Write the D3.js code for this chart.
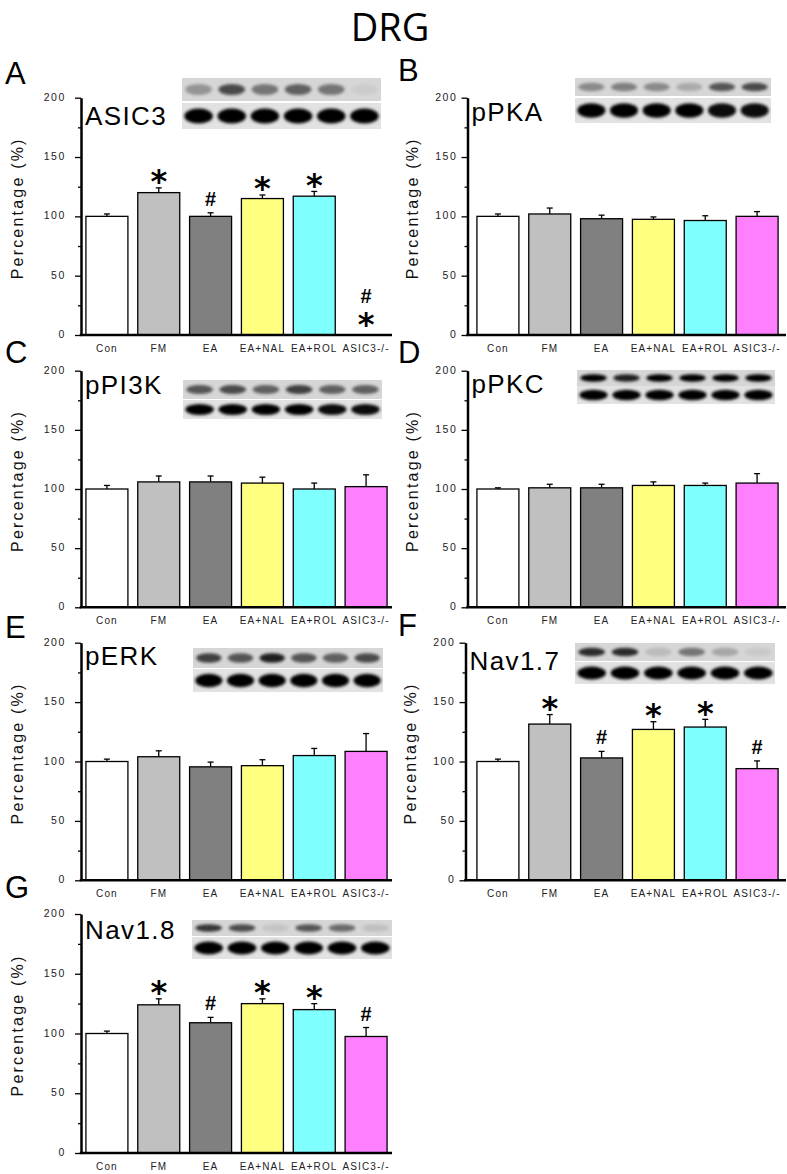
<!DOCTYPE html>
<html><head><meta charset="utf-8">
<script src="https://cdn.jsdelivr.net/npm/d3@7"></script>
<style>body{margin:0;background:#fff}svg{display:block}</style></head>
<body><svg id="c" width="787" height="1174"></svg>
<script>
// ---------- data ----------
const categories = ["Con", "FM", "EA", "EA+NAL", "EA+ROL", "ASIC3-/-"];
const yTicks = [0, 50, 100, 150, 200];
const yMinorTicks = [25, 75, 125, 175];
const proteins = ["ASIC3", "pPKA", "pPI3K", "pPKC", "pERK", "Nav1.7", "Nav1.8"];
const panelLetters = ["A", "B", "C", "D", "E", "F", "G"];

const meanASIC3 = [100, 120, 100, 115, 117, 0];
const errASIC3  = [2, 4, 3, 3, 4, 0];
const sigASIC3  = ["", "*", "#", "*", "*", "#*"];

const meanPKA = [100, 102, 98, 97.5, 96.5, 100];
const errPKA  = [2, 5, 3, 2, 4, 4];
const sigPKA  = ["", "", "", "", "", ""];

const meanPI3K = [100, 106, 106, 105, 100, 102];
const errPI3K  = [3, 5, 5, 5, 5, 10];
const sigPI3K  = ["", "", "", "", "", ""];

const meanPKC = [100, 101, 101, 103, 103, 105];
const errPKC  = [1, 3, 3, 3, 2, 8];
const sigPKC  = ["", "", "", "", "", ""];

const meanERK = [100, 104, 95.5, 96.5, 105, 108.5];
const errERK  = [2, 5, 4, 5, 6, 15];
const sigERK  = ["", "", "", "", "", ""];

const meanNav17 = [100, 131.5, 103, 127, 129, 94];
const errNav17  = [2, 8, 5.5, 6.5, 6.5, 6.5];
const sigNav17  = ["", "*", "#", "*", "*", "#"];

const meanNav18 = [100, 124, 109, 125, 120, 97.5];
const errNav18  = [2, 5, 4.5, 4, 5, 7.5];
const sigNav18  = ["", "*", "#", "*", "*", "#"];

// western blot band intensities (target band, loading control) per lane
const blotTopASIC3 = [0.3, 0.65, 0.45, 0.55, 0.45, 0.04];
const blotBotASIC3 = [1, 1, 1, 1, 1, 1];
const blotTopPKA = [0.35, 0.4, 0.35, 0.2, 0.6, 0.65];
const blotBotPKA = [1, 1, 1, 1, 0.95, 0.95];
const blotTopPI3K = [0.6, 0.65, 0.55, 0.7, 0.55, 0.55];
const blotBotPI3K = [1, 1, 1, 1, 0.95, 0.95];
const blotTopPKC = [1, 0.85, 1, 1, 1, 1];
const blotBotPKC = [1, 1, 1, 1, 1, 1];
const blotTopERK = [0.7, 0.6, 0.85, 0.6, 0.55, 0.65];
const blotBotERK = [1, 1, 1, 1, 1, 1];
const blotTopNav17 = [0.8, 0.8, 0.12, 0.45, 0.22, 0.06];
const blotBotNav17 = [1, 1, 1, 1, 1, 1];
const blotTopNav18 = [0.75, 0.65, 0.08, 0.6, 0.5, 0.1];
const blotBotNav18 = [1, 1, 1, 1, 1, 1];

// ---------- layout ----------
const barColors = ["#ffffff", "#c0c0c0", "#808080", "#ffff80", "#80ffff", "#ff80ff"];
const rows = [[97.7, 335], [370.7, 607.3], [642.7, 880.3], [914, 1153]];
const cols = [
  {axisX: 81, xEnd: 392, band: [81, 392], tickPad: 9},
  {axisX: 467.5, xEnd: 786, band: [472, 783], tickPad: 4}
];
const panels = [
  {mean: meanASIC3, err: errASIC3, sig: sigASIC3, top: blotTopASIC3, bot: blotBotASIC3, col: 0, row: 0,
   letter: [5, 84], blot: {x: 182, w: 199, t: [78, 23], b: [103, 26]}, nameDy: 27},
  {mean: meanPKA, err: errPKA, sig: sigPKA, top: blotTopPKA, bot: blotBotPKA, col: 1, row: 0,
   letter: [398, 81], blot: {x: 575, w: 196, t: [78, 18], b: [98, 25]}, nameDy: 23},
  {mean: meanPI3K, err: errPI3K, sig: sigPI3K, top: blotTopPI3K, bot: blotBotPI3K, col: 0, row: 1,
   letter: [5, 363], blot: {x: 183, w: 199, t: [380, 19], b: [400, 19]}, nameDy: 23},
  {mean: meanPKC, err: errPKC, sig: sigPKC, top: blotTopPKC, bot: blotBotPKC, col: 1, row: 1,
   letter: [398, 363], blot: {x: 577, w: 198, t: [370, 16], b: [386, 18]}, nameDy: 22},
  {mean: meanERK, err: errERK, sig: sigERK, top: blotTopERK, bot: blotBotERK, col: 0, row: 2,
   letter: [5, 638], blot: {x: 193, w: 190, t: [648, 20], b: [669, 23]}, nameDy: 22},
  {mean: meanNav17, err: errNav17, sig: sigNav17, top: blotTopNav17, bot: blotBotNav17, col: 1, row: 2,
   letter: [398, 636], blot: {x: 575, w: 200, t: [643, 18], b: [662, 22]}, nameDy: 27, axisX: 465.5},
  {mean: meanNav18, err: errNav18, sig: sigNav18, top: blotTopNav18, bot: blotBotNav18, col: 0, row: 3,
   letter: [5, 898], blot: {x: 192, w: 200, t: [920, 16], b: [937, 22]}, nameDy: 25}
];

const svg = d3.select("#c");
const defs = svg.append("defs");
defs.append("filter").attr("id", "blur").attr("x", "-50%").attr("y", "-100%").attr("width", "200%").attr("height", "300%")
  .append("feGaussianBlur").attr("stdDeviation", 1.5);

// title
svg.append("text").attr("x", 390).attr("y", 41).attr("text-anchor", "middle")
  .attr("font-family", "'Open Sans', 'Liberation Sans', sans-serif").attr("font-size", 38)
  .attr("fill", "#000").text("DRG");

const FONT = "'Liberation Sans', Arial, sans-serif";

panels.forEach((p, i) => {
  const c = cols[p.col];
  const axisX = p.axisX !== undefined ? p.axisX : c.axisX;
  const [yTop, yBot] = rows[p.row];
  const g = svg.append("g");

  const x = d3.scaleBand().domain(categories).range(c.band).paddingInner(0.19).paddingOuter(0.095);
  const y = d3.scaleLinear().domain([0, 200]).range([yBot, yTop]);

  // panel letter
  svg.append("text").attr("x", p.letter[0]).attr("y", p.letter[1])
    .attr("font-family", FONT).attr("font-size", 31).attr("fill", "#000").text(panelLetters[i]);

  // blot
  const bl = p.blot;
  const laneW = bl.w / 6;
  const bg = g.append("g");
  bg.append("rect").attr("x", bl.x).attr("y", bl.t[0]).attr("width", bl.w).attr("height", bl.t[1]).attr("fill", "#d6d6d6");
  bg.append("rect").attr("x", bl.x).attr("y", bl.b[0]).attr("width", bl.w).attr("height", bl.b[1]).attr("fill", "#e2e2e2");
  bg.selectAll("ellipse.t").data(p.top).join("ellipse").attr("class", "t")
    .attr("cx", (d, k) => bl.x + (k + 0.5) * laneW).attr("cy", bl.t[0] + bl.t[1] * 0.5)
    .attr("rx", laneW * 0.4).attr("ry", bl.t[1] * 0.24)
    .attr("fill", "#000").attr("opacity", d => d).attr("filter", "url(#blur)");
  bg.selectAll("ellipse.b").data(p.bot).join("ellipse").attr("class", "b")
    .attr("cx", (d, k) => bl.x + (k + 0.5) * laneW).attr("cy", bl.b[0] + bl.b[1] * 0.5)
    .attr("rx", laneW * 0.43).attr("ry", bl.b[1] * 0.29)
    .attr("fill", "#000").attr("opacity", d => d).attr("filter", "url(#blur)");

  // protein name
  g.append("text").attr("x", axisX + 4).attr("y", yTop + p.nameDy)
    .attr("font-family", FONT).attr("font-size", 26).attr("letter-spacing", 1.4).attr("fill", "#000")
    .text(proteins[i]);

  // bars
  const data = categories.map((cat, k) => ({cat, v: p.mean[k], e: p.err[k], s: p.sig[k], col: barColors[k]}));
  g.selectAll("rect.bar").data(data.filter(d => d.v > 0)).join("rect").attr("class", "bar")
    .attr("x", d => x(d.cat)).attr("width", x.bandwidth())
    .attr("y", d => y(d.v)).attr("height", d => y(0) - y(d.v))
    .attr("fill", d => d.col).attr("stroke", "#000").attr("stroke-width", 1.3);

  // error bars (upper only)
  const eb = g.selectAll("g.eb").data(data.filter(d => d.v > 0)).join("g").attr("class", "eb");
  eb.append("line").attr("x1", d => x(d.cat) + x.bandwidth() / 2).attr("x2", d => x(d.cat) + x.bandwidth() / 2)
    .attr("y1", d => y(d.v)).attr("y2", d => y(d.v + d.e)).attr("stroke", "#000").attr("stroke-width", 1.3);
  eb.append("line").attr("x1", d => x(d.cat) + x.bandwidth() / 2 - 3).attr("x2", d => x(d.cat) + x.bandwidth() / 2 + 3)
    .attr("y1", d => y(d.v + d.e)).attr("y2", d => y(d.v + d.e)).attr("stroke", "#000").attr("stroke-width", 1.3);

  // significance marks
  data.forEach(d => {
    if (!d.s) return;
    const cx = x(d.cat) + x.bandwidth() / 2;
    let cy = y(d.v + d.e) - (d.v > 0 ? 14 : 18);
    const marks = d.s.split("").reverse(); // bottom-most first
    marks.forEach(m => {
      if (m === "*") {
        g.append("text").attr("x", cx).attr("y", cy + 0.575 * 32).attr("text-anchor", "middle")
          .attr("font-family", "'DejaVu Sans', sans-serif").attr("font-weight", "bold").attr("font-size", 32)
          .attr("fill", "#000").text("*");
      } else {
        g.append("text").attr("x", cx).attr("y", cy + 7).attr("text-anchor", "middle")
          .attr("font-family", FONT).attr("font-weight", "bold").attr("font-size", 20)
          .attr("fill", "#000").text("#");
      }
      cy -= 21;
    });
  });

  // y axis
  const yAxis = d3.axisLeft(y).tickValues(yTicks).tickSize(6).tickPadding(c.tickPad).tickSizeOuter(0);
  const ya = g.append("g").attr("transform", `translate(${axisX},0)`).call(yAxis);
  ya.select(".domain").attr("stroke", "#000").attr("stroke-width", 2.5);
  ya.selectAll(".tick line").attr("stroke", "#000").attr("stroke-width", 1.3);
  ya.selectAll(".tick text").attr("font-family", FONT).attr("font-size", 10.5).attr("letter-spacing", 1.6)
    .attr("fill", "#222").attr("dy", "0.25em");
  const ym = d3.axisLeft(y).tickValues(yMinorTicks).tickSize(3).tickFormat("").tickSizeOuter(0);
  const ymg = g.append("g").attr("transform", `translate(${axisX},0)`).call(ym);
  ymg.select(".domain").remove();
  ymg.selectAll(".tick line").attr("stroke", "#000").attr("stroke-width", 1.3);

  // x axis
  const xAxis = d3.axisBottom(x).tickSize(0).tickPadding(10);
  const xa = g.append("g").attr("transform", `translate(0,${yBot})`).call(xAxis);
  xa.select(".domain").remove();
  xa.append("line").attr("x1", axisX - 1.25).attr("x2", c.xEnd).attr("y1", 0).attr("y2", 0)
    .attr("stroke", "#000").attr("stroke-width", 2.5);
  xa.selectAll(".tick text").attr("font-family", FONT).attr("font-size", 10).attr("letter-spacing", 1.1)
    .attr("fill", "#222");

  // y label
  g.append("text")
    .attr("transform", `translate(${axisX - (p.col === 0 ? 58 : 50)},${(yTop + yBot) / 2 - 8}) rotate(-90)`)
    .attr("text-anchor", "middle").attr("font-family", FONT).attr("font-size", 16).attr("letter-spacing", 2.2)
    .attr("fill", "#111").text("Percentage (%)");
});
</script>
</body></html>
